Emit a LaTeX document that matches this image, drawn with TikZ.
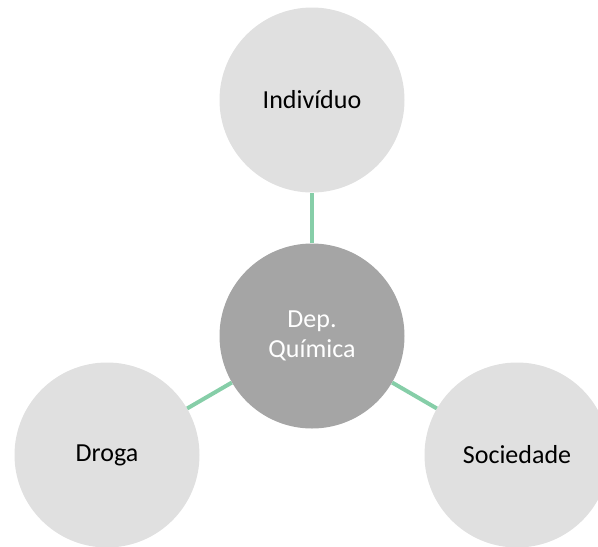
\documentclass[tikz,border=0pt]{standalone}
\usepackage{fontspec}
\setmainfont{Carlito}
\definecolor{lightc}{RGB}{224,224,224}
\definecolor{darkc}{RGB}{165,165,165}
\definecolor{linkc}{RGB}{134,206,168}
\tikzset{
  outer/.style={circle, fill=lightc, minimum size=185pt, inner sep=0pt, text=black},
  inner/.style={circle, fill=darkc, minimum size=185pt, inner sep=0pt, text=white, align=center},
  link/.style={draw=linkc, line width=4pt}
}
\begin{document}
\begin{tikzpicture}[x=1pt, y=-1pt, font=\fontsize{26}{30}\selectfont]
        \clip (0,0) rectangle (598,547);

        \node (dep) at (312,336) [inner] {Dep.\\Química};
        \node (indiv) at (312,100) [outer] {Indivíduo};
        \node (droga) at (107,455) [outer] {Droga};
        \node (soc) at (517,455) [outer] {Sociedade};

        \draw[link] (dep) -- (indiv);
        \draw[link] (dep) -- (droga);
        \draw[link] (dep) -- (soc);
        \end{tikzpicture}
\end{document}
